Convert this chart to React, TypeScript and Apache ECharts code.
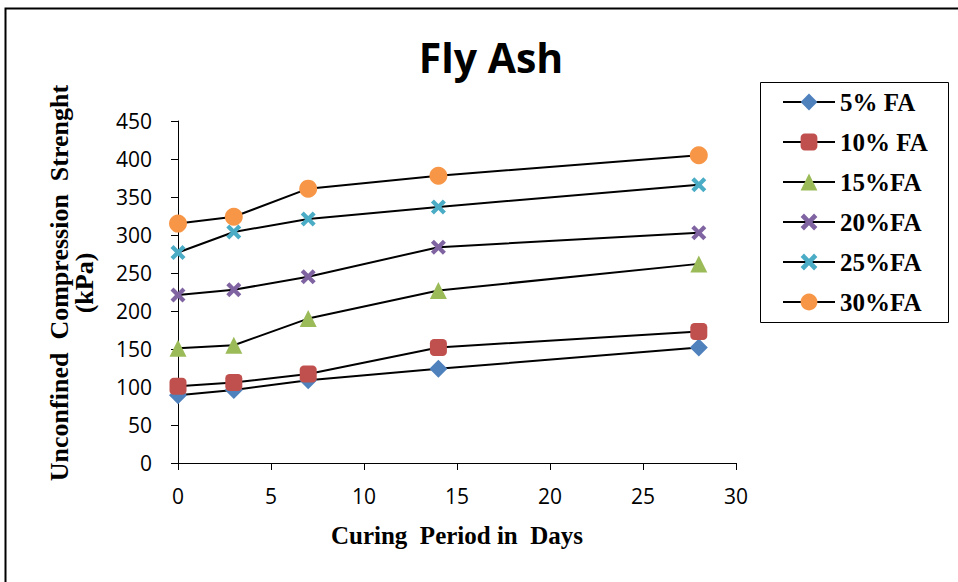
import React, { useEffect, useRef } from "react";
import * as echarts from "echarts";

const days = [0, 3, 7, 14, 28];
const seriesNames = ["5% FA", "10% FA", "15%FA", "20%FA", "25%FA", "30%FA"];
const fa5 = [89, 96, 109, 124, 152];
const fa10 = [101, 106, 117, 152, 173];
const fa15 = [151, 155, 190, 227, 262];
const fa20 = [221, 228, 245, 284, 303];
const fa25 = [277, 304, 321, 337, 366];
const fa30 = [315, 324, 361, 378, 405];
const yTicks = { min: 0, max: 450, interval: 50 };
const xTicks = { min: 0, max: 30, interval: 5 };
const titleText = "Fly Ash";
const xName = "Curing  Period in  Days";
const yName = "Unconfined  Compression  Strenght\n(kPa)";

const X_PATH =
  "path://M2,0 L5,3 L8,0 L10,2 L7,5 L10,8 L8,10 L5,7 L2,10 L0,8 L3,5 L0,2 Z";

const seriesData = [fa5, fa10, fa15, fa20, fa25, fa30];
const colors = ["#4F81BD", "#C0504D", "#9BBB59", "#8064A2", "#4BACC6", "#F79646"];
const symbols = ["diamond", "roundRect", "triangle", X_PATH, X_PATH, "circle"];
const symbolSizes = [18, 17, 17, 15, 15, 18];

export default function App() {
  const ref = useRef<HTMLDivElement>(null);
  useEffect(() => {
    if (!ref.current) return;
    const chart = echarts.init(ref.current, null, { renderer: "svg" });
    const serif = "'Liberation Serif', 'Times New Roman', serif";
    const sans = "'Open Sans', 'Liberation Sans', sans-serif";
    chart.setOption({
      animation: false,
      backgroundColor: "#fff",
      title: {
        text: titleText,
        left: 486,
        textAlign: "center",
        top: 31,
        textStyle: { fontFamily: sans, fontWeight: "bold", fontSize: 41, color: "#000" },
      },
      grid: { left: 178, right: 222, top: 121, bottom: 119, containLabel: false },
      legend: {
        orient: "vertical",
        left: 782,
        top: 89,
        padding: 0,
        itemWidth: 52,
        itemHeight: 21,
        itemGap: 14,
        itemTextGap: 8,
        textStyle: {
          fontFamily: serif,
          fontWeight: "bold",
          fontSize: 25,
          lineHeight: 26,
          color: "#000",
        },
        data: seriesNames,
      },
      xAxis: {
        type: "value",
        min: xTicks.min,
        max: xTicks.max,
        interval: xTicks.interval,
        name: xName,
        nameLocation: "middle",
        nameGap: 60,
        nameTextStyle: { fontFamily: serif, fontWeight: "bold", fontSize: 25, color: "#000" },
        axisLine: { show: true, onZero: false, lineStyle: { color: "#000", width: 1 } },
        axisTick: { show: true, length: 7, lineStyle: { color: "#000" } },
        axisLabel: { fontFamily: sans, fontSize: 21, color: "#000", margin: 22 },
        splitLine: { show: false },
      },
      yAxis: {
        type: "value",
        min: yTicks.min,
        max: yTicks.max,
        interval: yTicks.interval,
        axisLine: { show: true, lineStyle: { color: "#000", width: 1 } },
        axisTick: { show: true, length: 7, lineStyle: { color: "#000" } },
        axisLabel: { fontFamily: sans, fontSize: 21, color: "#000", margin: 26 },
        splitLine: { show: false },
      },
      graphic: [
        {
          type: "rect",
          shape: { x: 5.5, y: 8.5, width: 1000, height: 1000 },
          style: { fill: "none", stroke: "#000", lineWidth: 2 },
          silent: true,
        },
        {
          type: "rect",
          shape: { x: 760.5, y: 82.5, width: 188, height: 240 },
          style: { fill: "none", stroke: "#000", lineWidth: 1 },
          silent: true,
        },
        {
          type: "text",
          x: 72,
          y: 283,
          rotation: Math.PI / 2,
          silent: true,
          style: {
            text: yName,
            fontFamily: serif,
            fontWeight: "bold",
            fontSize: 26,
            lineHeight: 25,
            fill: "#000",
            align: "center",
            verticalAlign: "middle",
          },
        },
      ],
      series: seriesNames.map((name, i) => ({
        name,
        type: "line",
        data: days.map((d, j) => [d, seriesData[i][j]]),
        symbol: symbols[i],
        symbolSize: symbolSizes[i],
        showAllSymbol: true,
        lineStyle: { color: "#000", width: 2 },
        itemStyle: { color: colors[i], borderWidth: 0 },
        emphasis: { disabled: true },
        z: 2 + i,
      })),
    });
    return () => chart.dispose();
  }, []);
  return (
    <div
      ref={ref}
      style={{ position: "fixed", left: 0, top: 0, width: 958, height: 582 }}
    />
  );
}
